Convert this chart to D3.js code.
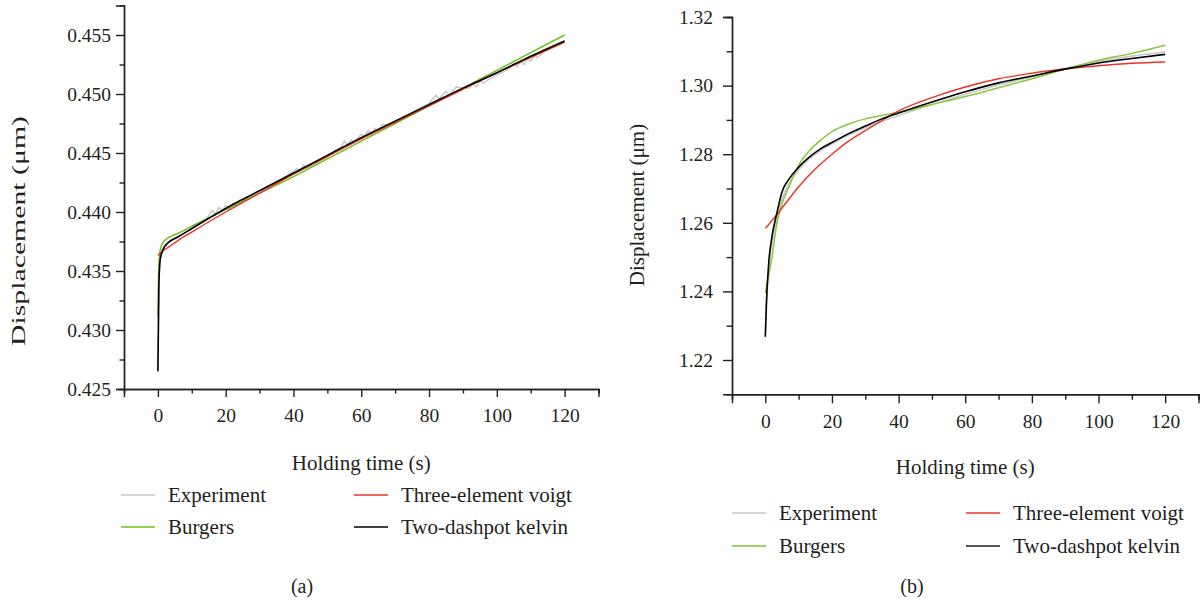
<!DOCTYPE html>
<html>
<head>
<meta charset="utf-8">
<script src="https://cdn.jsdelivr.net/npm/d3@7"></script>
<style>
body { margin: 0; background: #fff; }
svg { display: block; font-family: "Liberation Serif", "Times New Roman", serif; }
svg text { font-family: "Liberation Serif", "Times New Roman", serif; }
</style>
</head>
<body>
<script>
var width = 1203,
    height = 603;

// ---- panel (a) ----
var fitTimeA = [0, 0.3, 0.7, 1.5, 3, 6, 10, 20, 30, 40, 50, 60, 70, 80, 90, 100, 110, 120];
var burgersA = [0.4311, 0.4355, 0.4368, 0.4374, 0.4378, 0.4382, 0.4388, 0.4402, 0.4416, 0.4430, 0.4445, 0.4460, 0.4475, 0.4490, 0.4505, 0.4520, 0.4535, 0.4550];
var voigtA   = [0.4363, 0.4364, 0.4365, 0.4367, 0.4370, 0.4376, 0.4383, 0.4400, 0.4416, 0.4432, 0.4447, 0.4462, 0.4476, 0.4490, 0.4504, 0.4518, 0.4531, 0.4544];
var kelvinA  = [0.4265, 0.4340, 0.4360, 0.4368, 0.4374, 0.4379, 0.4386, 0.4403, 0.4418, 0.4433, 0.4448, 0.4463, 0.4477, 0.4491, 0.4505, 0.4518, 0.4532, 0.4545];

var expTimeA = [0, 0.3, 0.7, 1.5, 3, 6, 10, 14, 16, 17, 18, 19, 20, 21, 22, 23, 24, 26, 28, 30, 34, 38,
                41, 42, 43, 44, 46, 50, 54, 55, 56, 57, 58, 60, 61, 62, 63, 64, 65, 66, 68, 72, 76, 80,
                82, 83, 85, 86, 88, 90, 92, 93, 94, 95, 96, 98, 100, 102, 104, 105, 106, 107, 108, 109,
                110, 111, 112, 114, 117, 120];
var experimentA = [0.4266, 0.4342, 0.4361, 0.4369, 0.4374, 0.4379, 0.4386, 0.4393, 0.4401, 0.4398, 0.4404, 0.4401, 0.4406, 0.4403, 0.4407, 0.4405, 0.4410, 0.4411, 0.4416, 0.4418, 0.4424, 0.4430,
                   0.4437, 0.4435, 0.4440, 0.4437, 0.4440, 0.4448, 0.4455, 0.4460, 0.4457, 0.4461, 0.4459, 0.4466, 0.4464, 0.4469, 0.4466, 0.4471, 0.4468, 0.4474, 0.4474, 0.4480, 0.4486, 0.4492,
                   0.4499, 0.4496, 0.4502, 0.4499, 0.4506, 0.4505, 0.4505, 0.4509, 0.4506, 0.4511, 0.4509, 0.4513, 0.4516, 0.4519, 0.4522, 0.4526, 0.4523, 0.4528, 0.4525, 0.4530,
                   0.4528, 0.4532, 0.4531, 0.4536, 0.4540, 0.4544];

var yTicksA = [0.425, 0.430, 0.435, 0.440, 0.445, 0.450, 0.455];
var yMinorA = [0.4275, 0.4325, 0.4375, 0.4425, 0.4475, 0.4525];

// ---- panel (b) ----
var fitTimeB = [0, 0.3, 1, 2, 3.5, 5, 7, 10, 13, 16, 20, 25, 30, 35, 40, 50, 60, 70, 80, 90, 100, 110, 120];
var experimentB = [1.2275, 1.2340, 1.2460, 1.2540, 1.2615, 1.2668, 1.2712, 1.2755, 1.2785, 1.2807, 1.2830, 1.2856, 1.2877, 1.2896, 1.2913, 1.2945, 1.2975, 1.3002, 1.3026, 1.3050, 1.3070, 1.3086, 1.3098];
var burgersB = [1.2396, 1.2412, 1.2445, 1.2500, 1.2600, 1.2655, 1.2703, 1.2768, 1.2808, 1.2836, 1.2866, 1.2888, 1.2903, 1.2913, 1.2922, 1.2945, 1.2968, 1.2994, 1.3020, 1.3048, 1.3074, 1.3094, 1.3118];
var voigtB   = [1.2584, 1.2587, 1.2595, 1.2607, 1.2624, 1.2643, 1.2668, 1.2705, 1.2737, 1.2766, 1.2800, 1.2838, 1.2869, 1.2898, 1.2926, 1.2965, 1.2996, 1.3020, 1.3036, 1.3049, 1.3058, 1.3065, 1.3069];
var kelvinB  = [1.2268, 1.2360, 1.2480, 1.2560, 1.2630, 1.2690, 1.2726, 1.2762, 1.2790, 1.2812, 1.2834, 1.2860, 1.2882, 1.2903, 1.2920, 1.2952, 1.2982, 1.3008, 1.3028, 1.3048, 1.3066, 1.3079, 1.3091];

var yTicksB = [1.22, 1.24, 1.26, 1.28, 1.30, 1.32];
var yMinorB = [1.23, 1.25, 1.27, 1.29, 1.31];

// shared
var xTicks = [0, 20, 40, 60, 80, 100, 120];
var xMinor = [-10, 10, 30, 50, 70, 90, 110, 130];
var seriesNames = ["Experiment", "Burgers", "Three-element voigt", "Two-dashpot kelvin"];

var svg = d3.select("body").append("svg")
    .attr("width", width)
    .attr("height", height);

function zip(ts, vs) {
    return ts.map(function(t, i) { return [t, vs[i]]; });
}

function drawPanel(p) {
    var x = d3.scaleLinear().domain([-10, 130]).range([p.left, p.right]);
    var y = d3.scaleLinear().domain(p.yDomain).range([p.bottom, p.top]);
    var g = svg.append("g");

    // curves
    var line = d3.line()
        .x(function(d) { return x(d[0]); })
        .y(function(d) { return y(d[1]); });

    p.series.forEach(function(s) {
        g.append("path")
            .datum(zip(s.t, s.v))
            .attr("d", line.curve(s.smooth ? d3.curveMonotoneX : d3.curveLinear))
            .attr("fill", "none")
            .attr("stroke", s.color)
            .attr("stroke-width", s.w);
    });

    // minor ticks in their own groups, so the major call does not remove them
    g.append("g").attr("transform", "translate(0," + p.bottom + ")")
        .call(d3.axisBottom(x).tickValues(xMinor).tickSize(p.minorLen).tickFormat(""));
    g.append("g").attr("transform", "translate(" + p.left + ",0)")
        .call(d3.axisLeft(y).tickValues(p.yMinor).tickSize(p.minorLen).tickFormat(""));

    g.append("g").attr("transform", "translate(0," + p.bottom + ")")
        .call(d3.axisBottom(x).tickValues(xTicks).tickSize(p.majorLen).tickPadding(11).tickFormat(d3.format("d")));
    g.append("g").attr("transform", "translate(" + p.left + ",0)")
        .call(d3.axisLeft(y).tickValues(p.yTicks).tickSize(p.majorLen).tickPadding(p.yPad).tickFormat(d3.format(p.yFmt)));

    // drop d3's sans-serif defaults so the serif face is inherited
    g.selectAll("g").attr("font-family", null).attr("font-size", null);
    g.selectAll(".domain, .tick line").attr("stroke", "#231f20").attr("stroke-width", 1.4);
    g.selectAll(".tick text")
        .attr("fill", "#231f20")
        .style("font-size", "19.5px");

    // axis titles
    g.append("text")
        .attr("x", (p.left + p.right) / 2)
        .attr("y", p.xTitleY)
        .attr("text-anchor", "middle")
        .attr("dy", "0.35em")
        .attr("fill", "#231f20")
        .style("font-size", "21px")
        .text("Holding time (s)");

    var yt = g.append("text")
        .attr("transform", "translate(" + p.yTitleX + "," + p.yTitleY + ") rotate(-90)")
        .attr("text-anchor", "middle")
        .attr("dy", "0.35em")
        .attr("fill", "#231f20")
        .style("font-size", p.yTitleSize + "px")
        .text("Displacement (\u03bcm)");
    if (p.yTitleLen) yt.attr("textLength", p.yTitleLen).attr("lengthAdjust", "spacingAndGlyphs");

    // legend
    var lg = g.append("g");
    seriesNames.forEach(function(name, i) {
        var col = i < 2 ? 0 : 1, row = i % 2;
        var lx = p.legX[col], ly = p.legY[row];
        lg.append("line")
            .attr("x1", lx).attr("x2", lx + 34)
            .attr("y1", ly).attr("y2", ly)
            .attr("stroke", p.legColors[i])
            .attr("stroke-width", 1.6);
        lg.append("text")
            .attr("x", lx + 47)
            .attr("y", ly)
            .attr("dy", "0.33em")
            .attr("fill", "#231f20")
            .style("font-size", "21px")
            .text(name);
    });

    g.append("text")
        .attr("x", p.capX)
        .attr("y", 586)
        .attr("dy", "0.35em")
        .attr("text-anchor", "middle")
        .attr("fill", "#231f20")
        .style("font-size", "20px")
        .text(p.caption);
}

var grayCol = "#c8c8c8", redCol = "#ee3224";

drawPanel({
    left: 124, right: 598.5, top: 5.5, bottom: 389,
    yDomain: [0.425, 0.4575], yTicks: yTicksA, yMinor: yMinorA, yFmt: ".3f", yPad: 5,
    majorLen: 8, minorLen: 4.5,
    xTitleY: 463, yTitleX: 18, yTitleY: 231, yTitleLen: 230, yTitleSize: 19,
    legX: [121, 354], legY: [495, 527],
    legColors: [grayCol, "#6ac11a", redCol, "#000"],
    capX: 302, caption: "(a)",
    series: [
        {t: expTimeA, v: experimentA, color: grayCol, w: 1.5, smooth: false},
        {t: fitTimeA, v: burgersA, color: "#6ac11a", w: 1.5, smooth: true},
        {t: fitTimeA, v: voigtA, color: redCol, w: 1.4, smooth: true},
        {t: fitTimeA, v: kelvinA, color: "#000", w: 1.6, smooth: true}
    ]
});

drawPanel({
    left: 732, right: 1198.5, top: 17, bottom: 394.3,
    yDomain: [1.21, 1.32], yTicks: yTicksB, yMinor: yMinorB, yFmt: ".2f", yPad: 10,
    majorLen: 9, minorLen: 5.5,
    xTitleY: 467, yTitleX: 637, yTitleY: 205, yTitleLen: null, yTitleSize: 21,
    legX: [732, 966], legY: [513, 546],
    legColors: [grayCol, "#7ec832", redCol, "#231f20"],
    capX: 912, caption: "(b)",
    series: [
        {t: fitTimeB, v: experimentB, color: grayCol, w: 1.6, smooth: true},
        {t: fitTimeB, v: burgersB, color: "#8cc63f", w: 1.5, smooth: true},
        {t: fitTimeB, v: voigtB, color: redCol, w: 1.4, smooth: true},
        {t: fitTimeB, v: kelvinB, color: "#000", w: 1.6, smooth: true}
    ]
});
</script>
</body>
</html>
